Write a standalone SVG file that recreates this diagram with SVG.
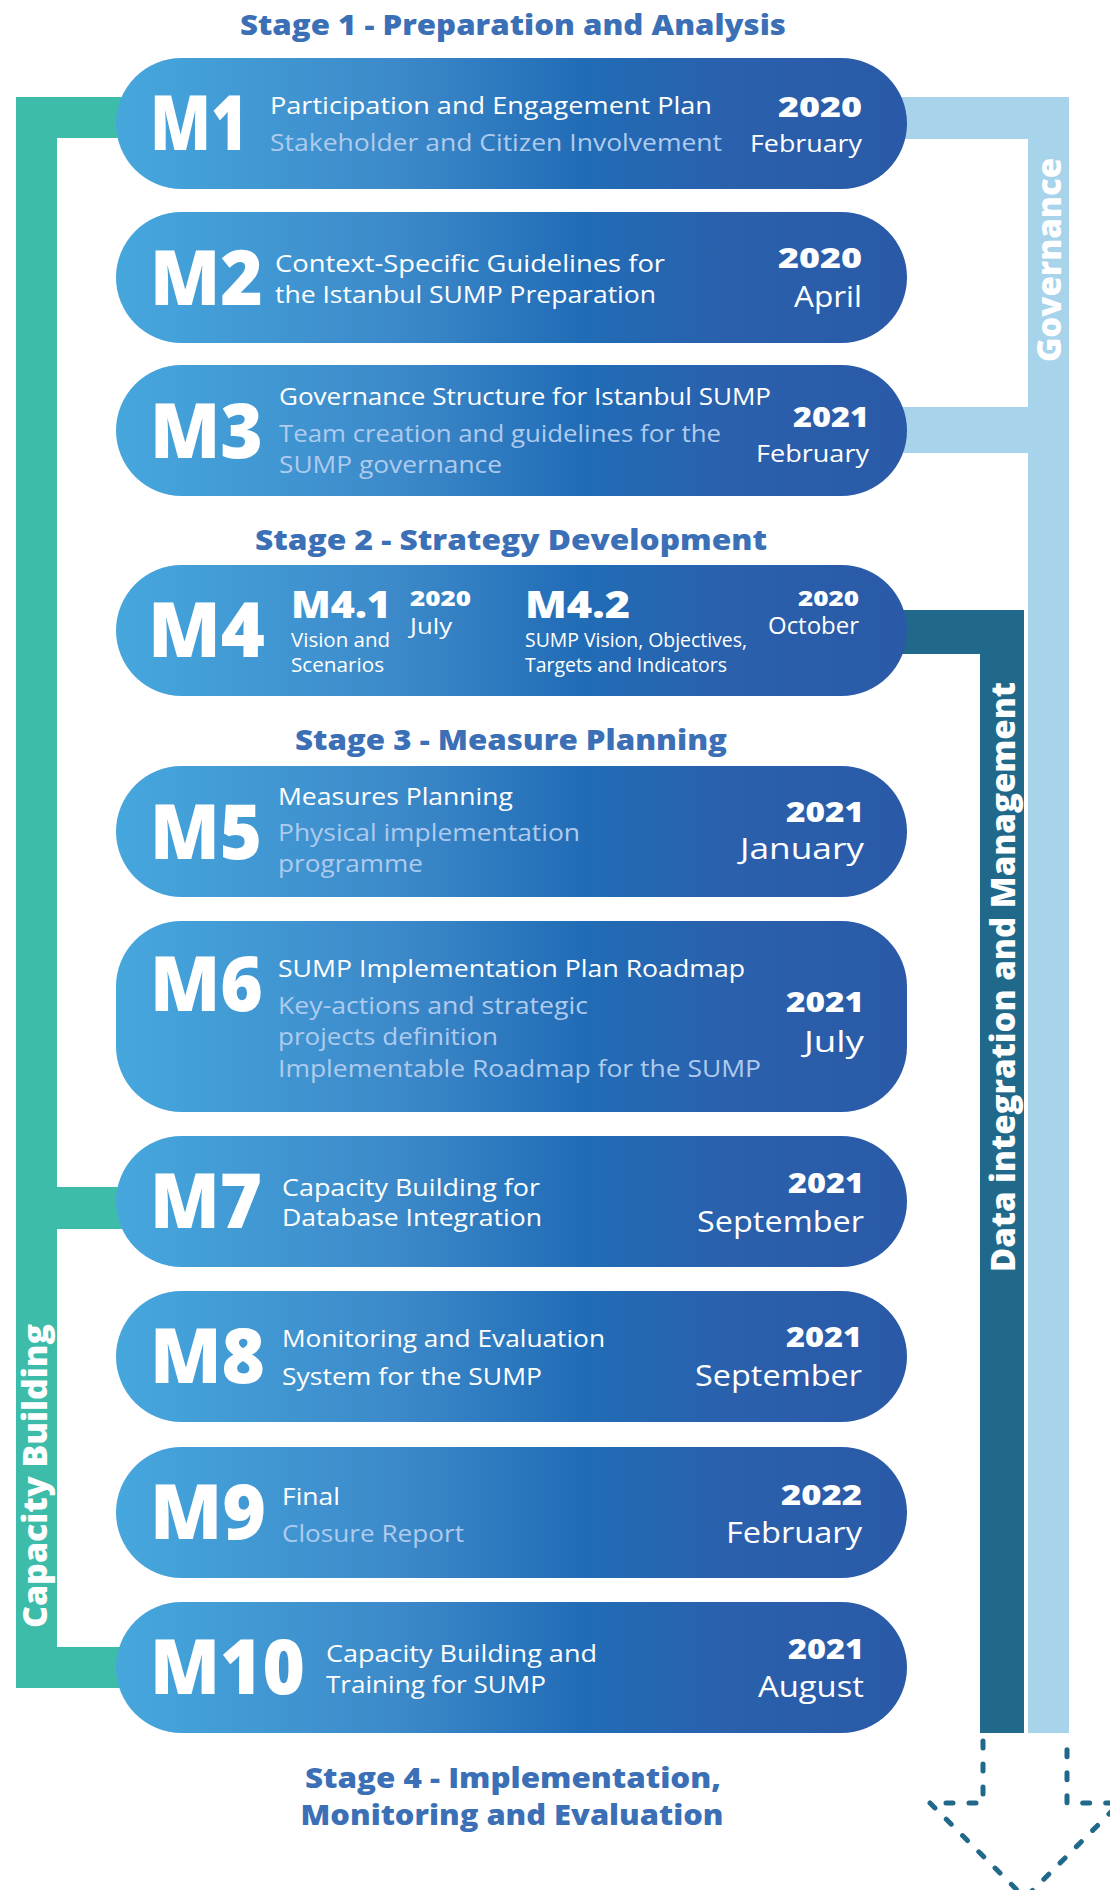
<svg xmlns="http://www.w3.org/2000/svg" width="1110" height="1890" viewBox="0 0 1110 1890">
  <defs>
    <linearGradient id="pillFill" x1="0" y1="0" x2="1" y2="0">
      <stop offset="0" stop-color="#46a7dd"/>
      <stop offset="0.36" stop-color="#3c89c9"/>
      <stop offset="0.59" stop-color="#216cb6"/>
      <stop offset="0.78" stop-color="#2a60ac"/>
      <stop offset="1" stop-color="#2a5aa7"/>
    </linearGradient>
    <style>
      .pill { fill: url(#pillFill); }
      text { font-family: "Open Sans", "DejaVu Sans", sans-serif; }
      .ml { font-size: 76px; font-weight: 800; fill: #ffffff; }
      .sub { font-size: 37px; font-weight: 800; fill: #ffffff; }
      .d { font-size: 24px; font-weight: 500; fill: #ffffff; }
      .ds { font-size: 20px; font-weight: 500; fill: #ffffff; }
      .dl { font-size: 24px; font-weight: 500; fill: #aecbee; }
      .yr { font-size: 29px; font-weight: 800; fill: #ffffff; text-anchor: end; }
      .yrs { font-size: 21px; font-weight: 800; fill: #ffffff; }
      .mo { font-size: 24px; font-weight: 400; fill: #ffffff; text-anchor: end; }
      .mob { font-size: 30px; font-weight: 400; fill: #ffffff; text-anchor: end; }
      .st { font-size: 29px; font-weight: 800; fill: #3b6fb6; text-anchor: middle; }
      .vt { font-size: 33px; font-weight: 800; fill: #ffffff; text-anchor: middle; }
      .green { fill: #3dbcaa; }
      .gov { fill: #a7d3eb; }
      .data { fill: #21698a; }
      .dash { fill: none; stroke: #21698a; stroke-width: 5; stroke-linecap: round; stroke-linejoin: round; stroke-dasharray: 7 16; }
    </style>
  </defs>

  <!-- stage headings -->
  <g id="stages">
    <text class="st" x="513" y="35" textLength="546" lengthAdjust="spacingAndGlyphs">Stage 1 - Preparation and Analysis</text>
    <text class="st" x="511" y="550" textLength="512" lengthAdjust="spacingAndGlyphs">Stage 2 - Strategy Development</text>
    <text class="st" x="511" y="750" textLength="432" lengthAdjust="spacingAndGlyphs">Stage 3 - Measure Planning</text>
    <text class="st" x="513" y="1788" textLength="416" lengthAdjust="spacingAndGlyphs">Stage 4 - Implementation,</text>
    <text class="st" x="512" y="1825" textLength="423" lengthAdjust="spacingAndGlyphs">Monitoring and Evaluation</text>
  </g>

  <!-- side bands linking the milestones -->
  <g id="connectors">
    <path class="green" d="M16,97 H140 V138 H57 V1187 H140 V1229 H57 V1647 H140 V1688 H16 Z"/>
    <path class="gov" d="M880,97 H1069 V1733 H1028 V453 H880 V407 H1028 V139 H880 Z"/>
    <path class="data" d="M880,610 H1024 V1733 H980 V654 H880 Z"/>
    <path class="dash" d="M983,1741 V1803 H930 L1025,1898 L1120,1803 H1067 V1741"/>
    <text class="vt" transform="translate(47,1476) rotate(-90)" textLength="304" lengthAdjust="spacingAndGlyphs">Capacity Building</text>
    <text class="vt" transform="translate(1061,260) rotate(-90)" textLength="204" lengthAdjust="spacingAndGlyphs">Governance</text>
    <text class="vt" transform="translate(1015,977) rotate(-90)" textLength="590" lengthAdjust="spacingAndGlyphs">Data integration and Management</text>
  </g>

  <g id="M1">
    <rect class="pill" x="116" y="58" width="791" height="131" rx="65.5"/>
    <text class="ml" x="150" y="150" textLength="98" lengthAdjust="spacingAndGlyphs">M1</text>
    <text class="d" x="270" y="114" textLength="442" lengthAdjust="spacingAndGlyphs">Participation and Engagement Plan</text>
    <text class="dl" x="270" y="151" textLength="452" lengthAdjust="spacingAndGlyphs">Stakeholder and Citizen Involvement</text>
    <text class="yr" x="862" y="117" textLength="84" lengthAdjust="spacingAndGlyphs">2020</text>
    <text class="mo" x="862" y="152" textLength="112" lengthAdjust="spacingAndGlyphs">February</text>
  </g>

  <g id="M2">
    <rect class="pill" x="116" y="212" width="791" height="131" rx="65.5"/>
    <text class="ml" x="150" y="305" textLength="113" lengthAdjust="spacingAndGlyphs">M2</text>
    <text class="d" x="275" y="272" textLength="390" lengthAdjust="spacingAndGlyphs">Context-Specific Guidelines for</text>
    <text class="d" x="275" y="303" textLength="381" lengthAdjust="spacingAndGlyphs">the Istanbul SUMP Preparation</text>
    <text class="yr" x="862" y="268" textLength="84" lengthAdjust="spacingAndGlyphs">2020</text>
    <text class="mob" x="862" y="307" textLength="68" lengthAdjust="spacingAndGlyphs">April</text>
  </g>

  <g id="M3">
    <rect class="pill" x="116" y="365" width="791" height="131" rx="65.5"/>
    <text class="ml" x="150" y="458" textLength="113" lengthAdjust="spacingAndGlyphs">M3</text>
    <text class="d" x="279" y="405" textLength="492" lengthAdjust="spacingAndGlyphs">Governance Structure for Istanbul SUMP</text>
    <text class="dl" x="279" y="442" textLength="442" lengthAdjust="spacingAndGlyphs">Team creation and guidelines for the</text>
    <text class="dl" x="279" y="473" textLength="223" lengthAdjust="spacingAndGlyphs">SUMP governance</text>
    <text class="yr" x="869" y="427" textLength="76" lengthAdjust="spacingAndGlyphs">2021</text>
    <text class="mo" x="869" y="462" textLength="113" lengthAdjust="spacingAndGlyphs">February</text>
  </g>

  <g id="M4">
    <rect class="pill" x="116" y="565" width="791" height="131" rx="65.5"/>
    <text class="ml" x="148" y="657" textLength="117" lengthAdjust="spacingAndGlyphs">M4</text>
    <text class="sub" x="291" y="618" textLength="100" lengthAdjust="spacingAndGlyphs">M4.1</text>
    <text class="ds" x="291" y="647" textLength="99" lengthAdjust="spacingAndGlyphs">Vision and</text>
    <text class="ds" x="291" y="672" textLength="93" lengthAdjust="spacingAndGlyphs">Scenarios</text>
    <text class="yrs" x="410" y="606" textLength="61" lengthAdjust="spacingAndGlyphs">2020</text>
    <text class="ds" x="410" y="634" textLength="42" lengthAdjust="spacingAndGlyphs" style="font-size:22px;font-weight:400">July</text>
    <text class="sub" x="525" y="618" textLength="105" lengthAdjust="spacingAndGlyphs">M4.2</text>
    <text class="ds" x="525" y="647" textLength="222" lengthAdjust="spacingAndGlyphs">SUMP Vision, Objectives,</text>
    <text class="ds" x="525" y="672" textLength="202" lengthAdjust="spacingAndGlyphs">Targets and Indicators</text>
    <text class="yrs" x="859" y="606" textLength="61" lengthAdjust="spacingAndGlyphs" text-anchor="end">2020</text>
    <text class="mo" x="859" y="634" textLength="91" lengthAdjust="spacingAndGlyphs" style="font-size:23px">October</text>
  </g>

  <g id="M5">
    <rect class="pill" x="116" y="766" width="791" height="131" rx="65.5"/>
    <text class="ml" x="150" y="859" textLength="112" lengthAdjust="spacingAndGlyphs">M5</text>
    <text class="d" x="278" y="805" textLength="235" lengthAdjust="spacingAndGlyphs">Measures Planning</text>
    <text class="dl" x="278" y="841" textLength="302" lengthAdjust="spacingAndGlyphs">Physical implementation</text>
    <text class="dl" x="278" y="872" textLength="145" lengthAdjust="spacingAndGlyphs">programme</text>
    <text class="yr" x="864" y="822" textLength="78" lengthAdjust="spacingAndGlyphs">2021</text>
    <text class="mob" x="864" y="859" textLength="124" lengthAdjust="spacingAndGlyphs">January</text>
  </g>

  <g id="M6">
    <rect class="pill" x="116" y="921" width="791" height="191" rx="65.5"/>
    <text class="ml" x="150" y="1011" textLength="113" lengthAdjust="spacingAndGlyphs">M6</text>
    <text class="d" x="278" y="977" textLength="467" lengthAdjust="spacingAndGlyphs">SUMP Implementation Plan Roadmap</text>
    <text class="dl" x="278" y="1014" textLength="310" lengthAdjust="spacingAndGlyphs">Key-actions and strategic</text>
    <text class="dl" x="278" y="1045" textLength="220" lengthAdjust="spacingAndGlyphs">projects definition</text>
    <text class="dl" x="278" y="1077" textLength="483" lengthAdjust="spacingAndGlyphs">Implementable Roadmap for the SUMP</text>
    <text class="yr" x="864" y="1012" textLength="78" lengthAdjust="spacingAndGlyphs">2021</text>
    <text class="mob" x="864" y="1052" textLength="60" lengthAdjust="spacingAndGlyphs">July</text>
  </g>

  <g id="M7">
    <rect class="pill" x="116" y="1136" width="791" height="131" rx="65.5"/>
    <text class="ml" x="150" y="1228" textLength="112" lengthAdjust="spacingAndGlyphs">M7</text>
    <text class="d" x="282" y="1196" textLength="258" lengthAdjust="spacingAndGlyphs">Capacity Building for</text>
    <text class="d" x="282" y="1226" textLength="260" lengthAdjust="spacingAndGlyphs">Database Integration</text>
    <text class="yr" x="864" y="1193" textLength="76" lengthAdjust="spacingAndGlyphs">2021</text>
    <text class="mob" x="864" y="1232" textLength="167" lengthAdjust="spacingAndGlyphs">September</text>
  </g>

  <g id="M8">
    <rect class="pill" x="116" y="1291" width="791" height="131" rx="65.5"/>
    <text class="ml" x="150" y="1383" textLength="115" lengthAdjust="spacingAndGlyphs">M8</text>
    <text class="d" x="282" y="1347" textLength="323" lengthAdjust="spacingAndGlyphs">Monitoring and Evaluation</text>
    <text class="d" x="282" y="1385" textLength="260" lengthAdjust="spacingAndGlyphs">System for the SUMP</text>
    <text class="yr" x="862" y="1347" textLength="76" lengthAdjust="spacingAndGlyphs">2021</text>
    <text class="mob" x="862" y="1386" textLength="167" lengthAdjust="spacingAndGlyphs">September</text>
  </g>

  <g id="M9">
    <rect class="pill" x="116" y="1447" width="791" height="131" rx="65.5"/>
    <text class="ml" x="150" y="1539" textLength="116" lengthAdjust="spacingAndGlyphs">M9</text>
    <text class="d" x="282" y="1505" textLength="58" lengthAdjust="spacingAndGlyphs">Final</text>
    <text class="dl" x="282" y="1542" textLength="182" lengthAdjust="spacingAndGlyphs">Closure Report</text>
    <text class="yr" x="862" y="1505" textLength="81" lengthAdjust="spacingAndGlyphs">2022</text>
    <text class="mob" x="862" y="1543" textLength="136" lengthAdjust="spacingAndGlyphs">February</text>
  </g>

  <g id="M10">
    <rect class="pill" x="116" y="1602" width="791" height="131" rx="65.5"/>
    <text class="ml" x="150" y="1694" textLength="155" lengthAdjust="spacingAndGlyphs">M10</text>
    <text class="d" x="326" y="1662" textLength="271" lengthAdjust="spacingAndGlyphs">Capacity Building and</text>
    <text class="d" x="326" y="1693" textLength="220" lengthAdjust="spacingAndGlyphs">Training for SUMP</text>
    <text class="yr" x="864" y="1659" textLength="76" lengthAdjust="spacingAndGlyphs">2021</text>
    <text class="mob" x="864" y="1697" textLength="106" lengthAdjust="spacingAndGlyphs">August</text>
  </g>
</svg>
